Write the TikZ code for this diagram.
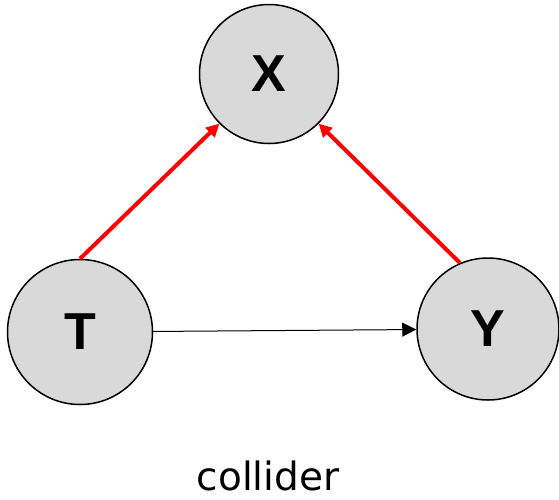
\documentclass[tikz,border=0pt]{standalone}
\usepackage{fontspec}
\usepackage{xcolor}
\usepackage{tikz}
\usetikzlibrary{arrows.meta}
\newfontfamily\varfont{Liberation Sans}
\newfontfamily\capfont{DejaVu Sans}
\definecolor{nodegray}{HTML}{D9D9D9}
\tikzset{
	graphnode/.style = {align=center, inner sep=0pt, text centered, font=\varfont\bfseries\fontsize{52}{52}\selectfont},
	var/.style = {graphnode, circle, black, draw=black, line width=1.5, fill=nodegray, minimum size=142},
	causal/.style = {-{Triangle[length=14, width=14]}, line width=1, black},
	colliding/.style = {-{Triangle[length=13, width=13]}, line width=4, red},
}

\begin{document}
\begin{tikzpicture}[x=1pt, y=-1pt]
	\useasboundingbox (0, 0) rectangle (559, 499);
	\node[var, minimum size=139](X) at (269, 74){X};
	\node[var, minimum size=145](T) at (80, 332){T};
	\node[var](Y) at (488, 329){Y};
	\path (T) edge[causal] (Y);
	\path (T.north) edge[colliding] (X.south west);
	\path (Y.113) edge[colliding] (X.south east);
	
	\node[font=\capfont\fontsize{39}{39}\selectfont, anchor=base, inner sep=0pt](cap) at (268, 490) {collider};
\end{tikzpicture}
\end{document}
